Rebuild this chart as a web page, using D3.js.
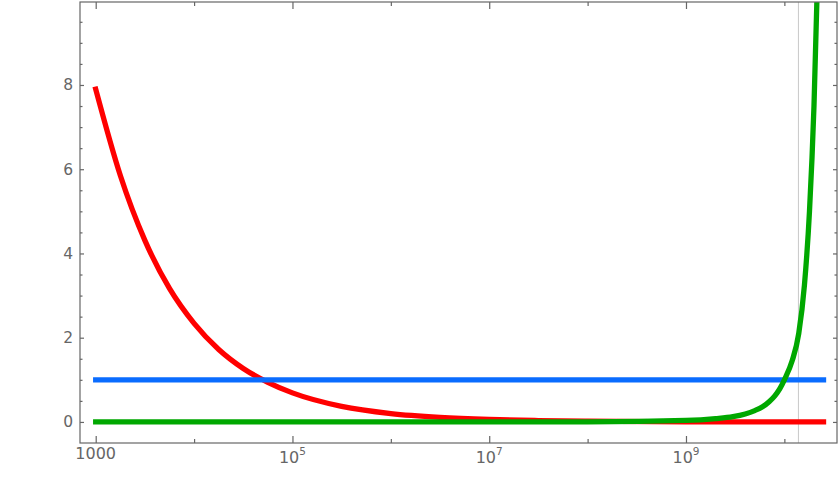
<!DOCTYPE html>
<html><head><meta charset="utf-8">
<script src="https://cdn.jsdelivr.net/npm/d3@7/dist/d3.min.js"></script>
<style>body{margin:0;background:#fff}</style>
</head><body><svg id="c" width="840" height="480"></svg>
<script>
// ---- data ----
const redX   = [1e3, 1.78e3, 3.16e3, 5.62e3, 1e4, 1.78e4, 3.16e4, 5.62e4, 1e5, 3.16e5, 1e6, 3.16e6, 1e7, 3.16e7, 1e8, 1e9, 1e10, 2.5e10];
const redY   = [7.9, 5.85, 4.31, 3.17, 2.34, 1.72, 1.27, 0.94, 0.69, 0.37, 0.20, 0.11, 0.06, 0.032, 0.017, 0.005, 0.0015, 0.001];
const blueX  = [1e3, 2.5e10];
const blueY  = [1, 1];
const greenX = [1e3, 1e5, 1e7, 1e8, 1e9, 2e9, 3e9, 4e9, 5e9, 6e9, 7e9, 8e9, 9e9, 1e10, 1.2e10, 1.4e10, 1.6e10, 1.8e10, 2.0e10, 2.2e10, 2.5e10];
const greenY = [0, 0, 0.0003, 0.003, 0.035, 0.078, 0.125, 0.19, 0.27, 0.36, 0.48, 0.62, 0.79, 1.0, 1.45, 2.1, 3.25, 5.0, 7.5, 11, 17];
const xMajorTicks = [1e3, 1e5, 1e7, 1e9];
const xMajorLabels = [["1000", ""], ["10", "5"], ["10", "7"], ["10", "9"]];
const xMinorTicks = [1e4, 1e6, 1e8, 1e10];
const yMajorTicks = [0, 2, 4, 6, 8];
const yMinorTicks = [0.5, 1, 1.5, 2.5, 3, 3.5, 4.5, 5, 5.5, 6.5, 7, 7.5, 8.5, 9, 9.5];
const refLineX = 1.39e10;

// ---- layout ----
const L = 80, R = 837, T = 2, B = 443;
const svg = d3.select("#c");
const x = d3.scaleLog().domain([Math.pow(10, 2.8404), Math.pow(10, 10.535)]).range([L, R]);
const y = d3.scaleLinear().domain([-0.5, 9.97]).range([B, T]);
const axisCol = "#666";

svg.append("defs").append("clipPath").attr("id", "clip")
  .append("rect").attr("x", L).attr("y", T).attr("width", R - L).attr("height", B - T);

// reference vertical line
svg.append("line").attr("x1", x(refLineX)).attr("x2", x(refLineX))
  .attr("y1", T).attr("y2", B).attr("stroke", "#c8c8c8").attr("stroke-width", 1);

const g = svg.append("g").attr("clip-path", "url(#clip)");
const line = d3.line().x(d => x(d[0])).y(d => y(d[1])).curve(d3.curveMonotoneX);
function series(xs, ys, col) {
  g.append("path").datum(xs.map((v, i) => [v, ys[i]]))
    .attr("d", line).attr("fill", "none").attr("stroke", col)
    .attr("stroke-width", 5.3).attr("stroke-linecap", "square");
}
series(redX, redY, "#ff0000");
series(blueX, blueY, "#0a6cff");
series(greenX, greenY, "#00a800");

// frame
svg.append("rect").attr("x", L).attr("y", T).attr("width", R - L).attr("height", B - T)
  .attr("fill", "none").attr("stroke", axisCol).attr("stroke-width", 1.2);

// axes via d3 axes with inward ticks
const axB = svg.append("g").attr("transform", `translate(0,${B})`)
  .call(d3.axisBottom(x).tickValues(xMajorTicks).tickSize(-7).tickFormat(""));
const axBm = svg.append("g").attr("transform", `translate(0,${B})`)
  .call(d3.axisBottom(x).tickValues(xMinorTicks).tickSize(-4).tickFormat(""));
const axT = svg.append("g").attr("transform", `translate(0,${T})`)
  .call(d3.axisTop(x).tickValues(xMajorTicks).tickSize(-7).tickFormat(""));
const axTm = svg.append("g").attr("transform", `translate(0,${T})`)
  .call(d3.axisTop(x).tickValues(xMinorTicks).tickSize(-4).tickFormat(""));
const axL = svg.append("g").attr("transform", `translate(${L},0)`)
  .call(d3.axisLeft(y).tickValues(yMajorTicks).tickSize(-4).tickPadding(7).tickFormat(d3.format("d")));
const axLm = svg.append("g").attr("transform", `translate(${L},0)`)
  .call(d3.axisLeft(y).tickValues(yMinorTicks).tickSize(-2.5).tickFormat(""));
const axR = svg.append("g").attr("transform", `translate(${R},0)`)
  .call(d3.axisRight(y).tickValues(yMajorTicks).tickSize(-4).tickFormat(""));
const axRm = svg.append("g").attr("transform", `translate(${R},0)`)
  .call(d3.axisRight(y).tickValues(yMinorTicks).tickSize(-2.5).tickFormat(""));
[axB, axBm, axT, axTm, axL, axLm, axR, axRm].forEach(a => {
  a.select(".domain").remove();
  a.selectAll("line").attr("stroke", axisCol).attr("stroke-width", 1.2);
});
axL.selectAll("text").attr("fill", "#666").attr("font-family", "DejaVu Sans, sans-serif").attr("font-size", 15.5);

// x labels with superscripts
const xl = svg.append("g");
xMajorTicks.forEach((t, i) => {
  const [base, sup] = xMajorLabels[i];
  const txt = xl.append("text").attr("x", x(t)).attr("y", sup ? 463 : 459)
    .attr("text-anchor", "middle").attr("fill", "#666")
    .attr("font-family", "DejaVu Sans, sans-serif").attr("font-size", 16);
  txt.append("tspan").text(base);
  if (sup) txt.append("tspan").attr("dy", -8).attr("font-size", 10.5).text(sup);
});
</script></body></html>
